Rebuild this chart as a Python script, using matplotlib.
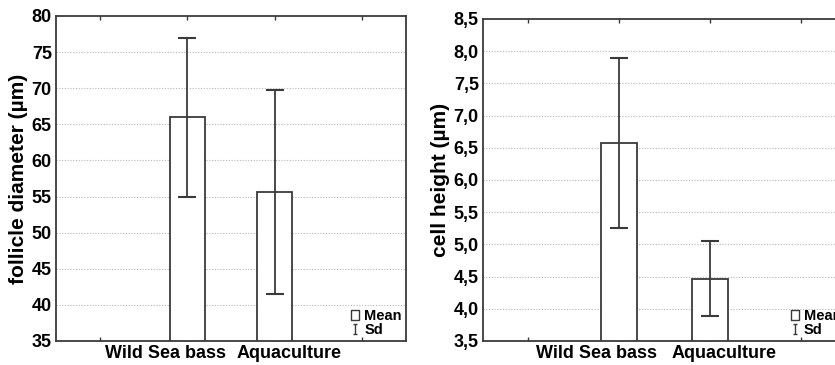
import matplotlib
matplotlib.use('Agg')
import matplotlib.pyplot as plt
from matplotlib.lines import Line2D
from matplotlib.path import Path
import numpy as np

categories = ['Wild Sea bass', 'Aquaculture']
cat_pos = [1, 2]

follicle_mean = [66.0, 55.6]
follicle_sd = [11.0, 14.15]
follicle_ticks = [35, 40, 45, 50, 55, 60, 65, 70, 75, 80]

cell_mean = [6.57, 4.47]
cell_sd = [1.32, 0.58]
cell_ticks = [3.5, 4.0, 4.5, 5.0, 5.5, 6.0, 6.5, 7.0, 7.5, 8.0, 8.5]

dark = '#3a3a3a'
bold_narrow = ['Liberation Sans Narrow', 'Liberation Sans', 'DejaVu Sans']
bold_wide = ['Liberation Sans', 'DejaVu Sans']

# I-bar marker for the "Sd" legend entry, tall box for "Mean"
ibar = Path([(-0.5, -1), (0.5, -1), (0, -1), (0, 1), (-0.5, 1), (0.5, 1)],
            [Path.MOVETO, Path.LINETO, Path.MOVETO, Path.LINETO, Path.MOVETO, Path.LINETO])
box = Path([(-0.75, -1), (0.75, -1), (0.75, 1), (-0.75, 1), (-0.75, -1)],
           [Path.MOVETO, Path.LINETO, Path.LINETO, Path.LINETO, Path.CLOSEPOLY])


def draw_panel(ax, mean, sd, ticks, ylabel, tick_family, tick_fmt, gap):
    ax.bar(cat_pos, mean, width=0.4, bottom=0, color='white', edgecolor=dark,
           linewidth=1.3, zorder=2)
    ax.errorbar(cat_pos, mean, yerr=sd, fmt='none', ecolor=dark, elinewidth=1.3,
                capsize=6.5, capthick=1.5, zorder=3)
    ax.set_xlim(-0.5, 3.5)
    ax.set_ylim(ticks[0], ticks[-1])
    ax.set_yticks(ticks)
    ax.set_yticklabels([tick_fmt(t) for t in ticks], family=tick_family,
                       fontweight='bold', fontsize=13)
    ax.tick_params(axis='y', length=0, pad=3)
    # small inward ticks on the category slots, labels placed between bars
    ax.set_xticks([0, 1, 2, 3])
    ax.set_xticklabels([])
    ax.tick_params(axis='x', which='major', direction='in', length=3,
                   width=1, color=dark, top=True)
    ax.set_xticks([1.5 - gap, 1.5 + gap], minor=True)
    ax.set_xticklabels(categories, minor=True, family=bold_wide,
                       fontweight='bold', fontsize=13)
    ax.tick_params(axis='x', which='minor', length=0, pad=3)
    labs = ax.get_xticklabels(minor=True)
    labs[0].set_horizontalalignment('right')
    labs[1].set_horizontalalignment('left')
    ax.set_ylabel(ylabel, family=bold_wide, fontweight='bold', fontsize=15,
                  labelpad=3)
    for t in ticks[1:-1]:
        ax.axhline(t, color='#b5b5b5', linestyle=(0, (1, 1.5)), linewidth=0.8,
                   zorder=1)
    for s in ax.spines.values():
        s.set_color(dark)
        s.set_linewidth(1.3)
    handles = [
        Line2D([], [], marker=box, markersize=7, markerfacecolor='white',
               markeredgecolor=dark, markeredgewidth=1, linestyle='none'),
        Line2D([], [], marker=ibar, markersize=7, markeredgecolor=dark,
               markeredgewidth=1, linestyle='none'),
    ]
    ax.legend(handles, ['Mean', 'Sd'], loc='lower right', frameon=False,
              prop={'family': bold_narrow, 'weight': 'bold', 'size': 10.5},
              handlelength=0.6, handletextpad=0.3, labelspacing=0.0,
              borderaxespad=0.15, borderpad=0.15)


fig = plt.figure(figsize=(8.35, 3.65), dpi=100)
ax1 = fig.add_axes([0.0671, 0.0658, 0.4192, 0.8904])
ax2 = fig.add_axes([0.5784, 0.0658, 0.4347, 0.8822])

draw_panel(ax1, follicle_mean, follicle_sd, follicle_ticks,
           'follicle diameter (µm)', bold_narrow, lambda t: '%d' % t, 0.06)
draw_panel(ax2, cell_mean, cell_sd, cell_ticks,
           'cell height (µm)', bold_wide, lambda t: ('%.1f' % t).replace('.', ','), 0.08)

fig.savefig('out.png', dpi=100)
